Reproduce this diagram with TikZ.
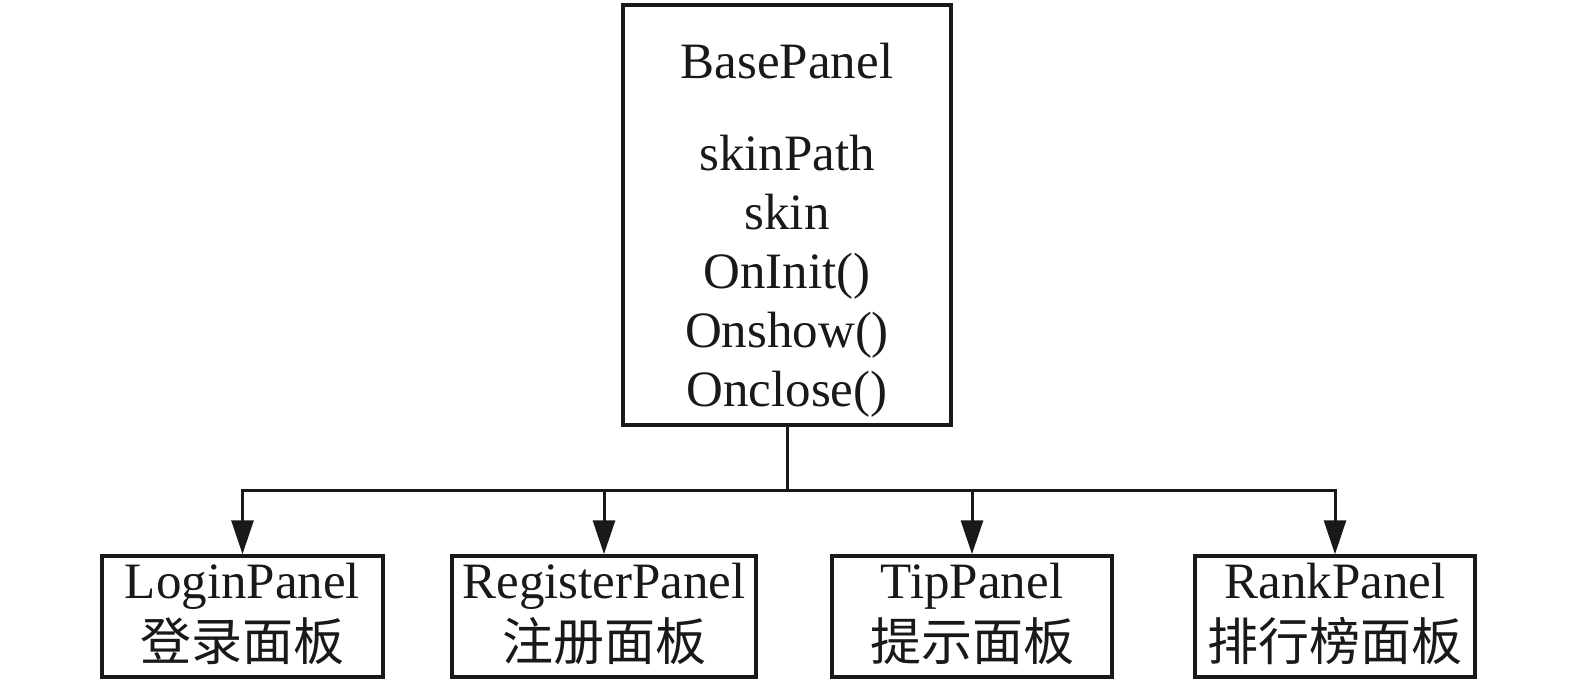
\documentclass[tikz,border=0pt]{standalone}
\usepackage{fontspec}
\setmainfont{Liberation Serif}
\newfontfamily\cjk{Noto Sans CJK SC}
\usetikzlibrary{arrows.meta}
\begin{document}
\begin{tikzpicture}[x=1pt,y=-1pt,
  box/.style={draw=black!90, line width=3.5pt, inner sep=0pt, minimum height=121pt},
  bigbox/.style={draw=black!90, line width=3.5pt, inner sep=0pt, minimum width=328pt, minimum height=420pt},
  txt/.style={anchor=base, inner sep=0pt, font=\fontsize{51}{59}\selectfont, text=black!90},
  ctxt/.style={anchor=base, inner sep=0pt, font=\fontsize{51}{59}\selectfont\cjk, text=black!90},
  conn/.style={draw=black!90, line width=3pt},
  arr/.style={conn, -{Triangle[length=34pt,width=22pt]}}]
\useasboundingbox (0,0) rectangle (1575,683);
% base panel
\node[bigbox] (base) at (787,215) {};
\node[txt] (t0) at (787,78) {BasePanel};
\node[txt] (t1) at (787,170) {skinPath};
\node[txt] (t2) at (787,229) {skin};
\node[txt] (t3) at (787,288) {OnInit()};
\node[txt] (t4) at (787,347) {Onshow()};
\node[txt] (t5) at (787,406) {Onclose()};
% children
\node[box, minimum width=281pt] (login) at (242.5,616.5) {};
\node[box, minimum width=304pt] (reg) at (604,616.5) {};
\node[box, minimum width=280pt] (tip) at (972,616.5) {};
\node[box, minimum width=280pt] (rank) at (1335,616.5) {};
\node[txt] (l1) at (242.5,598) {LoginPanel};
\node[ctxt] (l2) at (242.5,660) {登录面板};
\node[txt] (r1) at (604,598) {RegisterPanel};
\node[ctxt] (r2) at (604,660) {注册面板};
\node[txt] (p1) at (972,598) {TipPanel};
\node[ctxt] (p2) at (972,660) {提示面板};
\node[txt] (k1) at (1335,598) {RankPanel};
\node[ctxt] (k2) at (1335,660) {排行榜面板};
% connectors
\coordinate (bus) at (787,490);
\draw[conn] (base.south) -- (bus);
\draw[arr] (bus) -| (login.north);
\draw[arr] (bus) -| (reg.north);
\draw[arr] (bus) -| (tip.north);
\draw[arr] (bus) -| (rank.north);
\end{tikzpicture}
\end{document}
